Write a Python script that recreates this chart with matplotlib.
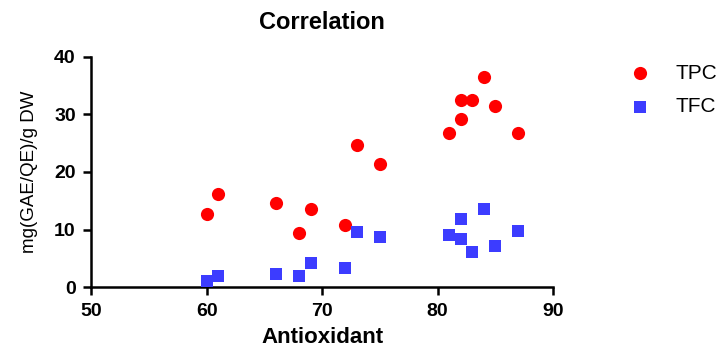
import matplotlib.pyplot as plt

# datos
tpc_x = [60, 61, 66, 68, 69, 72, 73, 75, 81, 82, 82, 83, 84, 85, 87]
tpc_y = [12.7, 16.2, 14.7, 9.5, 13.5, 10.75, 24.7, 21.4, 26.8, 29.2, 32.5, 32.4, 36.4, 31.5, 26.8]

tfc_x = [60, 61, 66, 68, 69, 72, 73, 75, 81, 82, 82, 83, 84, 85, 87]
tfc_y = [1.1, 2.0, 2.25, 2.0, 4.3, 3.4, 9.6, 8.7, 9.1, 11.8, 8.4, 6.1, 13.5, 7.2, 9.8]

xticks = [50, 60, 70, 80, 90]
yticks = [0, 10, 20, 30, 40]

plt.rcParams['font.family'] = ['Liberation Sans', 'DejaVu Sans']

fig = plt.figure(figsize=(7.23, 3.47), dpi=100)
ax = fig.add_axes([0.126, 0.172, 0.639, 0.665])

ax.scatter(tpc_x, tpc_y, marker='o', s=90, color='#ff0000', linewidths=0, label='TPC', clip_on=False, zorder=3)
ax.scatter(tfc_x, tfc_y, marker='s', s=80, color='#3c3cff', linewidths=0, label='TFC', clip_on=False, zorder=3)

ax.set_xlim(50, 90)
ax.set_ylim(0, 40)
ax.set_xticks(xticks)
ax.set_yticks(yticks)

for s in ['top', 'right']:
    ax.spines[s].set_visible(False)
for s in ['left', 'bottom']:
    ax.spines[s].set_linewidth(1.8)

ax.tick_params(width=1.8, length=6, labelsize=14, pad=5)
for lab in ax.get_xticklabels() + ax.get_yticklabels():
    lab.set_fontweight('bold')

ax.set_xlabel('Antioxidant', fontsize=16, fontweight='bold', labelpad=5)
ax.set_ylabel('mg(GAE/QE)/g DW', fontsize=13.5, labelpad=12)
ax.set_title('Correlation', fontsize=17, fontweight='bold', pad=20)

ax.legend(loc='upper left', bbox_to_anchor=(1.103, 1.05), frameon=False, fontsize=15,
          handletextpad=0.7, labelspacing=0.7, markerscale=1.0)

plt.savefig('out.png', dpi=100)
